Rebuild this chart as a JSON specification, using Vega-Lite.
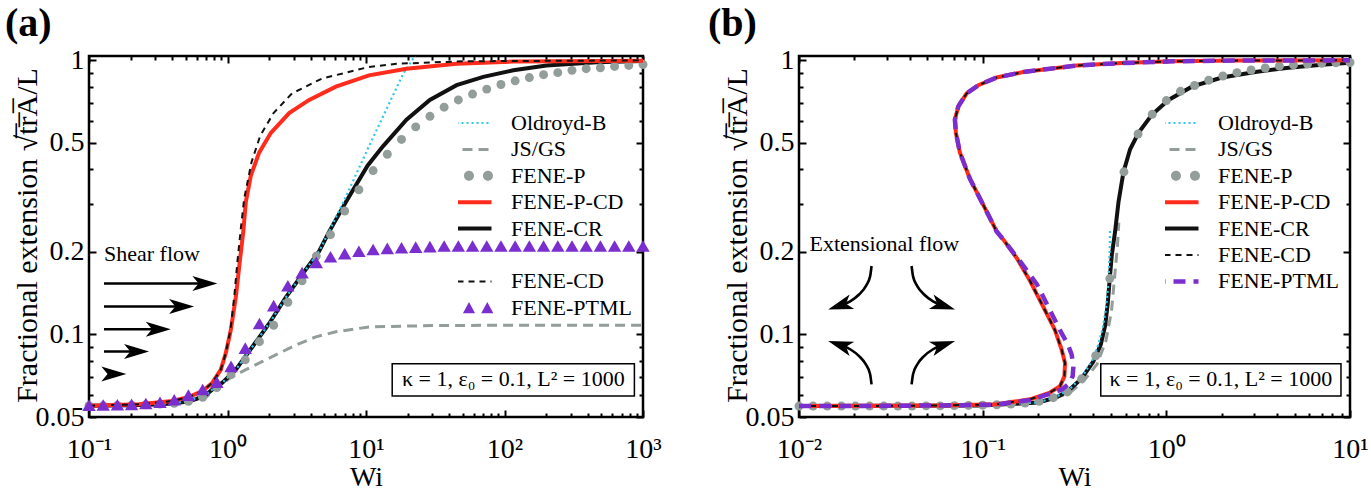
{
"$schema":"https://vega.github.io/schema/vega-lite/v6.json",
"background":"white",
"padding":{"left":3,"top":2,"right":5,"bottom":2},
"config":{
 "font":"Liberation Serif",
 "view":{"stroke":"#000","strokeWidth":2.5},
 "axis":{"grid":false,"domain":false,"labelFont":"Liberation Serif","titleFont":"Liberation Serif","labelColor":"#000","titleColor":"#000","tickColor":"#000","tickWidth":2,"labelFontSize":28,"titleFontSize":28,"titleFontWeight":"normal"},
 "title":{"font":"Liberation Serif","color":"#000"}
},
"spacing":43,
"resolve":{"scale":{"color":"independent","x":"independent","y":"independent"},"legend":{"color":"independent"}},
"datasets":{
"a":[
{"s":"Oldroyd-B","Wi":0.1,"v":0.055},{"s":"Oldroyd-B","Wi":0.3,"v":0.0556},{"s":"Oldroyd-B","Wi":0.5,"v":0.0568},{"s":"Oldroyd-B","Wi":0.7,"v":0.0603},{"s":"Oldroyd-B","Wi":0.778,"v":0.063},{"s":"Oldroyd-B","Wi":0.918,"v":0.0667},{"s":"Oldroyd-B","Wi":1.148,"v":0.0744},{"s":"Oldroyd-B","Wi":1.514,"v":0.0902},{"s":"Oldroyd-B","Wi":2.0,"v":0.1096},{"s":"Oldroyd-B","Wi":2.638,"v":0.1365},{"s":"Oldroyd-B","Wi":3.477,"v":0.1658},{"s":"Oldroyd-B","Wi":4.59,"v":0.201},{"s":"Oldroyd-B","Wi":5.42,"v":0.238},{"s":"Oldroyd-B","Wi":7.0,"v":0.31},{"s":"Oldroyd-B","Wi":10.26,"v":0.473},{"s":"Oldroyd-B","Wi":14,"v":0.66},{"s":"Oldroyd-B","Wi":18.6,"v":0.893},{"s":"Oldroyd-B","Wi":23.5,"v":1.07},
{"s":"JS/GS","Wi":0.1,"v":0.055},{"s":"JS/GS","Wi":0.3,"v":0.0555},{"s":"JS/GS","Wi":0.5,"v":0.0566},{"s":"JS/GS","Wi":0.7,"v":0.059},{"s":"JS/GS","Wi":0.823,"v":0.0635},{"s":"JS/GS","Wi":1.027,"v":0.069},{"s":"JS/GS","Wi":1.356,"v":0.0744},{"s":"JS/GS","Wi":1.788,"v":0.0797},{"s":"JS/GS","Wi":2.36,"v":0.0854},{"s":"JS/GS","Wi":3.115,"v":0.0915},{"s":"JS/GS","Wi":4.345,"v":0.098},{"s":"JS/GS","Wi":6.06,"v":0.1022},{"s":"JS/GS","Wi":10.5,"v":0.1065},{"s":"JS/GS","Wi":30,"v":0.1077},{"s":"JS/GS","Wi":100,"v":0.108},{"s":"JS/GS","Wi":1000,"v":0.108},
{"s":"FENE-CR","Wi":0.1,"v":0.055},{"s":"FENE-CR","Wi":0.2,"v":0.0552},{"s":"FENE-CR","Wi":0.3,"v":0.0555},{"s":"FENE-CR","Wi":0.4,"v":0.056},{"s":"FENE-CR","Wi":0.5,"v":0.0568},{"s":"FENE-CR","Wi":0.6,"v":0.0582},{"s":"FENE-CR","Wi":0.7,"v":0.0603},{"s":"FENE-CR","Wi":0.778,"v":0.063},{"s":"FENE-CR","Wi":0.918,"v":0.0667},{"s":"FENE-CR","Wi":1.148,"v":0.0744},{"s":"FENE-CR","Wi":1.514,"v":0.0902},{"s":"FENE-CR","Wi":2.0,"v":0.1096},{"s":"FENE-CR","Wi":2.638,"v":0.1365},{"s":"FENE-CR","Wi":3.477,"v":0.1658},{"s":"FENE-CR","Wi":4.59,"v":0.201},{"s":"FENE-CR","Wi":5.42,"v":0.237},{"s":"FENE-CR","Wi":7.16,"v":0.304},{"s":"FENE-CR","Wi":10.26,"v":0.412},{"s":"FENE-CR","Wi":13.3,"v":0.486},{"s":"FENE-CR","Wi":19.6,"v":0.606},{"s":"FENE-CR","Wi":28.9,"v":0.716},{"s":"FENE-CR","Wi":45.1,"v":0.81},{"s":"FENE-CR","Wi":70.3,"v":0.869},{"s":"FENE-CR","Wi":115.8,"v":0.918},{"s":"FENE-CR","Wi":201,"v":0.956},{"s":"FENE-CR","Wi":463,"v":0.983},{"s":"FENE-CR","Wi":1000,"v":0.993},
{"s":"FENE-P-CD","Wi":0.1,"v":0.055},{"s":"FENE-P-CD","Wi":0.23,"v":0.0556},{"s":"FENE-P-CD","Wi":0.4,"v":0.0572},{"s":"FENE-P-CD","Wi":0.528,"v":0.0592},{"s":"FENE-P-CD","Wi":0.659,"v":0.0621},{"s":"FENE-P-CD","Wi":0.778,"v":0.0667},{"s":"FENE-P-CD","Wi":0.895,"v":0.0744},{"s":"FENE-P-CD","Wi":0.972,"v":0.0855},{"s":"FENE-P-CD","Wi":1.056,"v":0.1036},{"s":"FENE-P-CD","Wi":1.148,"v":0.1366},{"s":"FENE-P-CD","Wi":1.22,"v":0.18},{"s":"FENE-P-CD","Wi":1.3,"v":0.237},{"s":"FENE-P-CD","Wi":1.356,"v":0.304},{"s":"FENE-P-CD","Wi":1.474,"v":0.3795},{"s":"FENE-P-CD","Wi":1.692,"v":0.46},{"s":"FENE-P-CD","Wi":2.056,"v":0.543},{"s":"FENE-P-CD","Wi":2.787,"v":0.641},{"s":"FENE-P-CD","Wi":3.888,"v":0.716},{"s":"FENE-P-CD","Wi":6.06,"v":0.8},{"s":"FENE-P-CD","Wi":10.5,"v":0.88},{"s":"FENE-P-CD","Wi":19.6,"v":0.93},{"s":"FENE-P-CD","Wi":45.1,"v":0.97},{"s":"FENE-P-CD","Wi":115.8,"v":0.988},{"s":"FENE-P-CD","Wi":1000,"v":0.995},
{"s":"FENE-CD","Wi":0.1,"v":0.055},{"s":"FENE-CD","Wi":0.23,"v":0.0556},{"s":"FENE-CD","Wi":0.4,"v":0.0572},{"s":"FENE-CD","Wi":0.528,"v":0.0592},{"s":"FENE-CD","Wi":0.659,"v":0.0621},{"s":"FENE-CD","Wi":0.778,"v":0.0667},{"s":"FENE-CD","Wi":0.895,"v":0.0744},{"s":"FENE-CD","Wi":0.972,"v":0.0855},{"s":"FENE-CD","Wi":1.05,"v":0.1036},{"s":"FENE-CD","Wi":1.12,"v":0.138},{"s":"FENE-CD","Wi":1.18,"v":0.185},{"s":"FENE-CD","Wi":1.25,"v":0.245},{"s":"FENE-CD","Wi":1.32,"v":0.313},{"s":"FENE-CD","Wi":1.49,"v":0.424},{"s":"FENE-CD","Wi":1.72,"v":0.529},{"s":"FENE-CD","Wi":2.15,"v":0.641},{"s":"FENE-CD","Wi":2.92,"v":0.756},{"s":"FENE-CD","Wi":4.8,"v":0.856},{"s":"FENE-CD","Wi":10.5,"v":0.944},{"s":"FENE-CD","Wi":16.6,"v":0.97},{"s":"FENE-CD","Wi":50,"v":0.99},{"s":"FENE-CD","Wi":1000,"v":0.998},
{"s":"FENE-P","Wi":0.1,"v":0.055},{"s":"FENE-P","Wi":0.12663,"v":0.055},{"s":"FENE-P","Wi":0.16035,"v":0.0551},{"s":"FENE-P","Wi":0.20305,"v":0.0552},{"s":"FENE-P","Wi":0.25713,"v":0.0554},{"s":"FENE-P","Wi":0.32561,"v":0.0557},{"s":"FENE-P","Wi":0.41245,"v":0.0561},{"s":"FENE-P","Wi":0.52222,"v":0.057},{"s":"FENE-P","Wi":0.66148,"v":0.059},{"s":"FENE-P","Wi":0.83782,"v":0.064},{"s":"FENE-P","Wi":1.0608,"v":0.0714},{"s":"FENE-P","Wi":1.3434,"v":0.0808},{"s":"FENE-P","Wi":1.7012,"v":0.0941},{"s":"FENE-P","Wi":2.1544,"v":0.108},{"s":"FENE-P","Wi":2.7283,"v":0.131},{"s":"FENE-P","Wi":3.4551,"v":0.1568},{"s":"FENE-P","Wi":4.3755,"v":0.193},{"s":"FENE-P","Wi":5.5412,"v":0.231},{"s":"FENE-P","Wi":7.017,"v":0.2817},{"s":"FENE-P","Wi":8.8862,"v":0.3367},{"s":"FENE-P","Wi":11.253,"v":0.3956},{"s":"FENE-P","Wi":14.251,"v":0.4537},{"s":"FENE-P","Wi":18.047,"v":0.5139},{"s":"FENE-P","Wi":22.854,"v":0.5708},{"s":"FENE-P","Wi":28.942,"v":0.6237},{"s":"FENE-P","Wi":36.652,"v":0.6737},{"s":"FENE-P","Wi":46.416,"v":0.7159},{"s":"FENE-P","Wi":58.78,"v":0.752},{"s":"FENE-P","Wi":74.438,"v":0.7838},{"s":"FENE-P","Wi":94.267,"v":0.815},{"s":"FENE-P","Wi":119.38,"v":0.8405},{"s":"FENE-P","Wi":151.18,"v":0.8636},{"s":"FENE-P","Wi":191.45,"v":0.885},{"s":"FENE-P","Wi":242.45,"v":0.9},{"s":"FENE-P","Wi":307.03,"v":0.9175},{"s":"FENE-P","Wi":388.82,"v":0.9304},{"s":"FENE-P","Wi":492.39,"v":0.938},{"s":"FENE-P","Wi":623.55,"v":0.9484},{"s":"FENE-P","Wi":789.65,"v":0.9563},{"s":"FENE-P","Wi":1000,"v":0.964},
{"s":"FENE-PTML","Wi":0.1,"v":0.0552},{"s":"FENE-PTML","Wi":0.12663,"v":0.0553},{"s":"FENE-PTML","Wi":0.16035,"v":0.0554},{"s":"FENE-PTML","Wi":0.20305,"v":0.0556},{"s":"FENE-PTML","Wi":0.25713,"v":0.056},{"s":"FENE-PTML","Wi":0.32561,"v":0.0566},{"s":"FENE-PTML","Wi":0.41245,"v":0.0578},{"s":"FENE-PTML","Wi":0.52222,"v":0.0601},{"s":"FENE-PTML","Wi":0.66148,"v":0.063},{"s":"FENE-PTML","Wi":0.83782,"v":0.067},{"s":"FENE-PTML","Wi":1.0608,"v":0.0765},{"s":"FENE-PTML","Wi":1.3434,"v":0.0891},{"s":"FENE-PTML","Wi":1.7012,"v":0.1096},{"s":"FENE-PTML","Wi":2.1544,"v":0.1274},{"s":"FENE-PTML","Wi":2.7283,"v":0.1504},{"s":"FENE-PTML","Wi":3.4551,"v":0.168},{"s":"FENE-PTML","Wi":4.3755,"v":0.183},{"s":"FENE-PTML","Wi":5.5412,"v":0.192},{"s":"FENE-PTML","Wi":7.017,"v":0.197},{"s":"FENE-PTML","Wi":8.8862,"v":0.201},{"s":"FENE-PTML","Wi":11.253,"v":0.204},{"s":"FENE-PTML","Wi":14.251,"v":0.206},{"s":"FENE-PTML","Wi":18.047,"v":0.207},{"s":"FENE-PTML","Wi":22.854,"v":0.208},{"s":"FENE-PTML","Wi":28.942,"v":0.209},{"s":"FENE-PTML","Wi":36.652,"v":0.21},{"s":"FENE-PTML","Wi":46.416,"v":0.21},{"s":"FENE-PTML","Wi":58.78,"v":0.21},{"s":"FENE-PTML","Wi":74.438,"v":0.21},{"s":"FENE-PTML","Wi":94.267,"v":0.21},{"s":"FENE-PTML","Wi":119.38,"v":0.21},{"s":"FENE-PTML","Wi":151.18,"v":0.21},{"s":"FENE-PTML","Wi":191.45,"v":0.21},{"s":"FENE-PTML","Wi":242.45,"v":0.21},{"s":"FENE-PTML","Wi":307.03,"v":0.21},{"s":"FENE-PTML","Wi":388.82,"v":0.21},{"s":"FENE-PTML","Wi":492.39,"v":0.21},{"s":"FENE-PTML","Wi":623.55,"v":0.21},{"s":"FENE-PTML","Wi":789.65,"v":0.21},{"s":"FENE-PTML","Wi":1000,"v":0.21}
],
"b":[
{"s":"Oldroyd-B","Wi":0.01,"v":0.0548},{"s":"Oldroyd-B","Wi":0.1,"v":0.0551},{"s":"Oldroyd-B","Wi":0.2,"v":0.0565},{"s":"Oldroyd-B","Wi":0.25,"v":0.059},{"s":"Oldroyd-B","Wi":0.3,"v":0.0635},{"s":"Oldroyd-B","Wi":0.35,"v":0.0705},{"s":"Oldroyd-B","Wi":0.4,"v":0.0815},{"s":"Oldroyd-B","Wi":0.427,"v":0.0923},{"s":"Oldroyd-B","Wi":0.45,"v":0.105},{"s":"Oldroyd-B","Wi":0.47,"v":0.125},{"s":"Oldroyd-B","Wi":0.482,"v":0.15},{"s":"Oldroyd-B","Wi":0.489,"v":0.18},{"s":"Oldroyd-B","Wi":0.492,"v":0.21},{"s":"Oldroyd-B","Wi":0.494,"v":0.242},
{"s":"JS/GS","Wi":0.01,"v":0.0548},{"s":"JS/GS","Wi":0.1,"v":0.0551},{"s":"JS/GS","Wi":0.2,"v":0.0563},{"s":"JS/GS","Wi":0.2955,"v":0.0609},{"s":"JS/GS","Wi":0.357,"v":0.068},{"s":"JS/GS","Wi":0.4203,"v":0.078},{"s":"JS/GS","Wi":0.4685,"v":0.0946},{"s":"JS/GS","Wi":0.5025,"v":0.1213},{"s":"JS/GS","Wi":0.522,"v":0.1598},{"s":"JS/GS","Wi":0.542,"v":0.2106},{"s":"JS/GS","Wi":0.551,"v":0.2554},
{"s":"FENE-CR","Wi":0.01,"v":0.0548},{"s":"FENE-CR","Wi":0.1,"v":0.0551},{"s":"FENE-CR","Wi":0.2,"v":0.0565},{"s":"FENE-CR","Wi":0.25,"v":0.0588},{"s":"FENE-CR","Wi":0.29,"v":0.062},{"s":"FENE-CR","Wi":0.345,"v":0.069},{"s":"FENE-CR","Wi":0.4,"v":0.0795},{"s":"FENE-CR","Wi":0.44,"v":0.092},{"s":"FENE-CR","Wi":0.465,"v":0.108},{"s":"FENE-CR","Wi":0.48,"v":0.13},{"s":"FENE-CR","Wi":0.492,"v":0.16},{"s":"FENE-CR","Wi":0.505,"v":0.195},{"s":"FENE-CR","Wi":0.526,"v":0.237},{"s":"FENE-CR","Wi":0.549,"v":0.304},{"s":"FENE-CR","Wi":0.584,"v":0.39},{"s":"FENE-CR","Wi":0.635,"v":0.473},{"s":"FENE-CR","Wi":0.7055,"v":0.543},{"s":"FENE-CR","Wi":0.834,"v":0.632},{"s":"FENE-CR","Wi":1.028,"v":0.716},{"s":"FENE-CR","Wi":1.377,"v":0.8},{"s":"FENE-CR","Wi":2.007,"v":0.864},{"s":"FENE-CR","Wi":3.05,"v":0.905},{"s":"FENE-CR","Wi":4.63,"v":0.938},{"s":"FENE-CR","Wi":7.03,"v":0.962},{"s":"FENE-CR","Wi":10,"v":0.978},
{"s":"FENE-P","Wi":0.01,"v":0.0548},{"s":"FENE-P","Wi":0.011938,"v":0.0548},{"s":"FENE-P","Wi":0.014251,"v":0.0548},{"s":"FENE-P","Wi":0.017013,"v":0.0548},{"s":"FENE-P","Wi":0.020309,"v":0.0548},{"s":"FENE-P","Wi":0.024245,"v":0.0548},{"s":"FENE-P","Wi":0.028943,"v":0.0548},{"s":"FENE-P","Wi":0.034551,"v":0.0548},{"s":"FENE-P","Wi":0.041246,"v":0.0548},{"s":"FENE-P","Wi":0.049239,"v":0.0549},{"s":"FENE-P","Wi":0.05878,"v":0.0549},{"s":"FENE-P","Wi":0.07017,"v":0.055},{"s":"FENE-P","Wi":0.083768,"v":0.0551},{"s":"FENE-P","Wi":0.1,"v":0.0552},{"s":"FENE-P","Wi":0.11938,"v":0.0554},{"s":"FENE-P","Wi":0.14251,"v":0.0557},{"s":"FENE-P","Wi":0.17013,"v":0.0562},{"s":"FENE-P","Wi":0.20309,"v":0.057},{"s":"FENE-P","Wi":0.24245,"v":0.0588},{"s":"FENE-P","Wi":0.28943,"v":0.0617},{"s":"FENE-P","Wi":0.34551,"v":0.0689},{"s":"FENE-P","Wi":0.41246,"v":0.0836},{"s":"FENE-P","Wi":0.49239,"v":0.1598},{"s":"FENE-P","Wi":0.5878,"v":0.3916},{"s":"FENE-P","Wi":0.7017,"v":0.5377},{"s":"FENE-P","Wi":0.83768,"v":0.6344},{"s":"FENE-P","Wi":1,"v":0.712},{"s":"FENE-P","Wi":1.1938,"v":0.7694},{"s":"FENE-P","Wi":1.4251,"v":0.808},{"s":"FENE-P","Wi":1.7013,"v":0.845},{"s":"FENE-P","Wi":2.0309,"v":0.875},{"s":"FENE-P","Wi":2.4245,"v":0.9},{"s":"FENE-P","Wi":2.8943,"v":0.92},{"s":"FENE-P","Wi":3.4551,"v":0.936},{"s":"FENE-P","Wi":4.1246,"v":0.95},{"s":"FENE-P","Wi":4.9239,"v":0.96},{"s":"FENE-P","Wi":5.878,"v":0.967},{"s":"FENE-P","Wi":7.017,"v":0.973},{"s":"FENE-P","Wi":8.3768,"v":0.977},{"s":"FENE-P","Wi":10,"v":0.98},
{"s":"FENE-P-CD","i":0,"Wi":0.01,"v":0.0548},{"s":"FENE-P-CD","i":1,"Wi":0.03,"v":0.0549},{"s":"FENE-P-CD","i":2,"Wi":0.06,"v":0.0551},{"s":"FENE-P-CD","i":3,"Wi":0.1192,"v":0.0556},{"s":"FENE-P-CD","i":4,"Wi":0.181,"v":0.058},{"s":"FENE-P-CD","i":5,"Wi":0.2327,"v":0.0614},{"s":"FENE-P-CD","i":6,"Wi":0.2638,"v":0.0648},{"s":"FENE-P-CD","i":7,"Wi":0.2787,"v":0.0704},{"s":"FENE-P-CD","i":8,"Wi":0.2808,"v":0.0786},{"s":"FENE-P-CD","i":9,"Wi":0.2694,"v":0.0878},{"s":"FENE-P-CD","i":10,"Wi":0.2477,"v":0.1036},{"s":"FENE-P-CD","i":11,"Wi":0.2142,"v":0.1257},{"s":"FENE-P-CD","i":12,"Wi":0.181,"v":0.1568},{"s":"FENE-P-CD","i":13,"Wi":0.1532,"v":0.19},{"s":"FENE-P-CD","i":14,"Wi":0.1297,"v":0.2215},{"s":"FENE-P-CD","i":15,"Wi":0.1192,"v":0.2372},{"s":"FENE-P-CD","i":16,"Wi":0.1009,"v":0.296},{"s":"FENE-P-CD","i":17,"Wi":0.0853,"v":0.3688},{"s":"FENE-P-CD","i":18,"Wi":0.0752,"v":0.46},{"s":"FENE-P-CD","i":19,"Wi":0.0715,"v":0.543},{"s":"FENE-P-CD","i":20,"Wi":0.0706,"v":0.606},{"s":"FENE-P-CD","i":21,"Wi":0.0737,"v":0.678},{"s":"FENE-P-CD","i":22,"Wi":0.0818,"v":0.756},{"s":"FENE-P-CD","i":23,"Wi":0.0948,"v":0.81},{"s":"FENE-P-CD","i":24,"Wi":0.1192,"v":0.864},{"s":"FENE-P-CD","i":25,"Wi":0.1667,"v":0.905},{"s":"FENE-P-CD","i":26,"Wi":0.2327,"v":0.93},{"s":"FENE-P-CD","i":27,"Wi":0.3253,"v":0.956},{"s":"FENE-P-CD","i":28,"Wi":0.572,"v":0.975},{"s":"FENE-P-CD","i":29,"Wi":1.072,"v":0.99},{"s":"FENE-P-CD","i":30,"Wi":2.475,"v":0.996},{"s":"FENE-P-CD","i":31,"Wi":10,"v":0.998},
{"s":"FENE-CD","i":0,"Wi":0.01,"v":0.0548},{"s":"FENE-CD","i":1,"Wi":0.03,"v":0.0549},{"s":"FENE-CD","i":2,"Wi":0.06,"v":0.0551},{"s":"FENE-CD","i":3,"Wi":0.1192,"v":0.0556},{"s":"FENE-CD","i":4,"Wi":0.181,"v":0.058},{"s":"FENE-CD","i":5,"Wi":0.2327,"v":0.0614},{"s":"FENE-CD","i":6,"Wi":0.2638,"v":0.0648},{"s":"FENE-CD","i":7,"Wi":0.2787,"v":0.0704},{"s":"FENE-CD","i":8,"Wi":0.2808,"v":0.0786},{"s":"FENE-CD","i":9,"Wi":0.2694,"v":0.0878},{"s":"FENE-CD","i":10,"Wi":0.2477,"v":0.1036},{"s":"FENE-CD","i":11,"Wi":0.2142,"v":0.1257},{"s":"FENE-CD","i":12,"Wi":0.181,"v":0.1568},{"s":"FENE-CD","i":13,"Wi":0.1532,"v":0.19},{"s":"FENE-CD","i":14,"Wi":0.1297,"v":0.2215},{"s":"FENE-CD","i":15,"Wi":0.1192,"v":0.2372},{"s":"FENE-CD","i":16,"Wi":0.1009,"v":0.296},{"s":"FENE-CD","i":17,"Wi":0.0853,"v":0.3688},{"s":"FENE-CD","i":18,"Wi":0.0752,"v":0.46},{"s":"FENE-CD","i":19,"Wi":0.0715,"v":0.543},{"s":"FENE-CD","i":20,"Wi":0.0706,"v":0.606},{"s":"FENE-CD","i":21,"Wi":0.0737,"v":0.678},{"s":"FENE-CD","i":22,"Wi":0.0818,"v":0.756},{"s":"FENE-CD","i":23,"Wi":0.0948,"v":0.81},{"s":"FENE-CD","i":24,"Wi":0.1192,"v":0.864},{"s":"FENE-CD","i":25,"Wi":0.1667,"v":0.905},{"s":"FENE-CD","i":26,"Wi":0.2327,"v":0.93},{"s":"FENE-CD","i":27,"Wi":0.3253,"v":0.956},{"s":"FENE-CD","i":28,"Wi":0.572,"v":0.975},{"s":"FENE-CD","i":29,"Wi":1.072,"v":0.99},{"s":"FENE-CD","i":30,"Wi":2.475,"v":0.996},{"s":"FENE-CD","i":31,"Wi":10,"v":0.998},
{"s":"FENE-PTML","i":0,"Wi":0.01,"v":0.0548},{"s":"FENE-PTML","i":1,"Wi":0.03,"v":0.0549},{"s":"FENE-PTML","i":2,"Wi":0.06,"v":0.0551},{"s":"FENE-PTML","i":3,"Wi":0.1192,"v":0.0555},{"s":"FENE-PTML","i":4,"Wi":0.181,"v":0.0577},{"s":"FENE-PTML","i":5,"Wi":0.2327,"v":0.0607},{"s":"FENE-PTML","i":6,"Wi":0.27,"v":0.063},{"s":"FENE-PTML","i":7,"Wi":0.296,"v":0.0662},{"s":"FENE-PTML","i":8,"Wi":0.309,"v":0.0705},{"s":"FENE-PTML","i":9,"Wi":0.312,"v":0.0765},{"s":"FENE-PTML","i":10,"Wi":0.305,"v":0.0845},{"s":"FENE-PTML","i":11,"Wi":0.29,"v":0.0925},{"s":"FENE-PTML","i":12,"Wi":0.2694,"v":0.1008},{"s":"FENE-PTML","i":13,"Wi":0.2327,"v":0.1223},{"s":"FENE-PTML","i":14,"Wi":0.197,"v":0.1526},{"s":"FENE-PTML","i":15,"Wi":0.16,"v":0.1845},{"s":"FENE-PTML","i":16,"Wi":0.1297,"v":0.2215},{"s":"FENE-PTML","i":17,"Wi":0.1192,"v":0.2372},{"s":"FENE-PTML","i":18,"Wi":0.1009,"v":0.296},{"s":"FENE-PTML","i":19,"Wi":0.0853,"v":0.3688},{"s":"FENE-PTML","i":20,"Wi":0.0752,"v":0.46},{"s":"FENE-PTML","i":21,"Wi":0.0715,"v":0.543},{"s":"FENE-PTML","i":22,"Wi":0.0706,"v":0.606},{"s":"FENE-PTML","i":23,"Wi":0.0737,"v":0.678},{"s":"FENE-PTML","i":24,"Wi":0.0818,"v":0.756},{"s":"FENE-PTML","i":25,"Wi":0.0948,"v":0.81},{"s":"FENE-PTML","i":26,"Wi":0.1192,"v":0.864},{"s":"FENE-PTML","i":27,"Wi":0.1667,"v":0.905},{"s":"FENE-PTML","i":28,"Wi":0.2327,"v":0.93},{"s":"FENE-PTML","i":29,"Wi":0.3253,"v":0.956},{"s":"FENE-PTML","i":30,"Wi":0.572,"v":0.975},{"s":"FENE-PTML","i":31,"Wi":1.072,"v":0.99},{"s":"FENE-PTML","i":32,"Wi":2.475,"v":0.996},{"s":"FENE-PTML","i":33,"Wi":10,"v":0.998}
]
},
"hconcat":[
{
 "width":554,"height":361,
 "title":{"text":"(a)","anchor":"start","frame":"bounds","fontSize":40,"fontWeight":"bold","offset":2,"dx":-7},
 "data":{"name":"a"},
 "encoding":{
  "x":{"field":"Wi","type":"quantitative","scale":{"type":"log","domain":[0.1,1000],"nice":false},"axis":null},
  "y":{"field":"v","type":"quantitative","scale":{"type":"log","domain":[0.05,1.035],"nice":false},"axis":null}
 },
 "resolve":{"axis":{"x":"independent","y":"independent"}},
 "layer":[
  {"transform":[{"filter":"datum.s === 'JS/GS'"}],
   "mark":{"type":"line","clip":true,"color":"#939d9a","strokeWidth":3,"strokeDash":[10,6]},
   "encoding":{
    "x":{"field":"Wi","type":"quantitative","scale":{"type":"log","domain":[0.1,1000],"nice":false},
      "axis":{"orient":"bottom","values":[0.1,1,10,100,1000],"labelExpr":"datum.value < 0.5 ? '10⁻¹' : datum.value < 5 ? '10⁰' : datum.value < 50 ? '10¹' : datum.value < 500 ? '10²' : '10³'","tickSize":-7,"labelPadding":25,"labelFlush":false,"labelOverlap":false,"title":"Wi","titlePadding":0}},
    "y":{"field":"v","type":"quantitative","scale":{"type":"log","domain":[0.05,1.035],"nice":false},
      "axis":{"orient":"left","values":[0.05,0.1,0.2,0.5,1],"format":"~g","tickSize":-7,"labelPadding":12,"labelOverlap":false,"title":"Fractional extension  √t̅r̅A̅/L","titleX":-53,"titleY":179,"titleAngle":-90,"titleAlign":"center","titleBaseline":"alphabetic","titleFontSize":30}}
   }},
  {"transform":[{"filter":"datum.s === 'FENE-CR'"}],
   "mark":{"type":"line","clip":true,"strokeWidth":4},
   "encoding":{
    "x":{"field":"Wi","type":"quantitative","scale":{"type":"log","domain":[0.1,1000],"nice":false},
      "axis":{"orient":"top","values":[0.1,1,10,100,1000],"labels":false,"tickSize":-7,"title":null}},
    "y":{"field":"v","type":"quantitative","scale":{"type":"log","domain":[0.05,1.035],"nice":false},
      "axis":{"orient":"right","values":[0.05,0.1,0.2,0.5,1],"labels":false,"tickSize":-7,"title":null}},
    "color":{"field":"s","type":"nominal",
      "scale":{"domain":["Oldroyd-B","JS/GS","FENE-P","FENE-P-CD","FENE-CR"," ","FENE-CD","FENE-PTML"],"range":["#2fc6ee","#939d9a","#939d9a","#ff2b1c","#111111","#ffffff","#111111","#7b2ed0"]},
      "legend":{"title":null,"orient":"none","legendX":369,"legendY":54,"symbolSize":2025,"clipHeight":26,"rowPadding":0.4,"padding":0,"labelFont":"Liberation Serif","labelFontSize":22,"labelColor":"#000","labelOffset":31,
        "encode":{"symbols":{"update":{
          "shape":{"signal":"datum.value === 'FENE-P' ? 'M-1.066,0A0.222,0.222,0,1,0,-0.622,0A0.222,0.222,0,1,0,-1.066,0ZM-0.222,0A0.222,0.222,0,1,0,0.222,0A0.222,0.222,0,1,0,-0.222,0ZM0.622,0A0.222,0.222,0,1,0,1.066,0A0.222,0.222,0,1,0,0.622,0Z' : datum.value === 'FENE-PTML' ? 'M-0.813,-0.26L-0.543,0.24L-1.083,0.24ZM0,-0.26L0.27,0.24L-0.27,0.24ZM0.813,-0.26L1.083,0.24L0.543,0.24Z' : 'stroke'"},
          "fill":{"signal":"datum.value === 'FENE-P' ? '#939d9a' : datum.value === 'FENE-PTML' ? '#7b2ed0' : 'transparent'"},
          "strokeWidth":{"signal":"datum.value === 'Oldroyd-B' ? 2.2 : datum.value === 'JS/GS' ? 3 : datum.value === 'FENE-CD' ? 2 : (datum.value === 'FENE-P' || datum.value === 'FENE-PTML') ? 0 : 4"},
          "strokeDash":{"signal":"datum.value === 'Oldroyd-B' ? [2,3] : datum.value === 'JS/GS' ? [10,6] : datum.value === 'FENE-CD' ? [6,5] : [1,0]"},
          "opacity":{"signal":"datum.value === ' ' ? 0 : 1"},
          "size":{"value":2025}
        }}}}}
   }},
  {"transform":[{"filter":"datum.s === 'Oldroyd-B'"}],
   "mark":{"type":"line","clip":true,"color":"#2fc6ee","strokeWidth":2.2,"strokeDash":[2,3]},
   "encoding":{
    "x":{"field":"Wi","type":"quantitative","scale":{"type":"log","domain":[0.1,1000],"nice":false},
      "axis":{"orient":"bottom","values":[0.2,0.3,0.4,0.5,0.6,0.7,0.8,0.9,2,3,4,5,6,7,8,9,20,30,40,50,60,70,80,90,200,300,400,500,600,700,800,900],"labels":false,"tickSize":-4,"title":null}},
    "y":{"field":"v","type":"quantitative","scale":{"type":"log","domain":[0.05,1.035],"nice":false},
      "axis":{"orient":"left","values":[0.06,0.07,0.08,0.09,0.3,0.4,0.6,0.7,0.8,0.9],"labels":false,"tickSize":-4,"title":null}}
   }},
  {"transform":[{"filter":"datum.s === 'FENE-P'"}],
   "mark":{"type":"point","shape":"circle","filled":true,"size":80,"color":"#939d9a","opacity":1},
   "encoding":{
    "x":{"field":"Wi","type":"quantitative","scale":{"type":"log","domain":[0.1,1000],"nice":false},
      "axis":{"orient":"top","values":[0.2,0.3,0.4,0.5,0.6,0.7,0.8,0.9,2,3,4,5,6,7,8,9,20,30,40,50,60,70,80,90,200,300,400,500,600,700,800,900],"labels":false,"tickSize":-4,"title":null}},
    "y":{"field":"v","type":"quantitative","scale":{"type":"log","domain":[0.05,1.035],"nice":false},
      "axis":{"orient":"right","values":[0.06,0.07,0.08,0.09,0.3,0.4,0.6,0.7,0.8,0.9],"labels":false,"tickSize":-4,"title":null}}
   }},
  {"transform":[{"filter":"datum.s === 'FENE-P-CD'"}],
   "mark":{"type":"line","clip":true,"color":"#ff2b1c","strokeWidth":4}},
  {"transform":[{"filter":"datum.s === 'FENE-CD'"}],
   "mark":{"type":"line","clip":true,"color":"#111111","strokeWidth":2,"strokeDash":[6,5]}},
  {"transform":[{"filter":"datum.s === 'FENE-PTML'"}],
   "mark":{"type":"point","shape":"triangle-up","filled":true,"size":180,"color":"#7b2ed0","opacity":1}},
  {"data":{"values":[{"x1":0.1283,"x2":0.689,"v":0.1533},{"x1":0.1283,"x2":0.47,"v":0.1264},{"x1":0.1283,"x2":0.319,"v":0.1045},{"x1":0.1283,"x2":0.2222,"v":0.0866}]},
   "mark":{"type":"rule","color":"#000","strokeWidth":2.6},
   "encoding":{
    "x":{"field":"x1","type":"quantitative","scale":{"type":"log","domain":[0.1,1000],"nice":false},"axis":null},
    "x2":{"field":"x2"},
    "y":{"field":"v","type":"quantitative","scale":{"type":"log","domain":[0.05,1.035],"nice":false},"axis":null}
   }},
  {"data":{"values":[{"tip":0.845,"v":0.1533},{"tip":0.574,"v":0.1264},{"tip":0.3895,"v":0.1045},{"tip":0.2714,"v":0.0866},{"tip":0.186,"v":0.0718}]},
   "mark":{"type":"point","shape":"M0,0L-2,-0.6L-1.5,0L-2,0.6Z","size":625,"filled":true,"color":"#000","opacity":1,"strokeWidth":0},
   "encoding":{
    "x":{"field":"tip","type":"quantitative","scale":{"type":"log","domain":[0.1,1000],"nice":false},"axis":null}
   }},
  {"data":{"values":[{"Wi":0.1283,"v":0.1956,"t":"Shear flow"}]},
   "mark":{"type":"text","align":"left","baseline":"middle","font":"Liberation Serif","fontSize":22,"color":"#000"},
   "encoding":{"text":{"field":"t"}}},
  {"data":{"values":[{"x1":15.46,"x2":866.8,"y1":0.0597,"y2":0.0782}]},
   "mark":{"type":"rect","fill":"#fff","stroke":"#000","strokeWidth":1.5},
   "encoding":{
    "x":{"field":"x1","type":"quantitative","scale":{"type":"log","domain":[0.1,1000],"nice":false},"axis":null},
    "x2":{"field":"x2"},
    "y":{"field":"y1","type":"quantitative","scale":{"type":"log","domain":[0.05,1.035],"nice":false},"axis":null},
    "y2":{"field":"y2"}
   }},
  {"data":{"values":[{"Wi":115.8,"v":0.0685,"t":"κ = 1, ε₀ = 0.1, L² = 1000"}]},
   "mark":{"type":"text","align":"center","baseline":"middle","font":"Liberation Serif","fontSize":22,"color":"#000"},
   "encoding":{"text":{"field":"t"}}}
 ]
},
{
 "width":551,"height":361,
 "title":{"text":"(b)","anchor":"start","frame":"bounds","fontSize":40,"fontWeight":"bold","offset":2,"dx":-14},
 "data":{"name":"b"},
 "encoding":{
  "x":{"field":"Wi","type":"quantitative","scale":{"type":"log","domain":[0.01,10],"nice":false},"axis":null},
  "y":{"field":"v","type":"quantitative","scale":{"type":"log","domain":[0.05,1.035],"nice":false},"axis":null}
 },
 "resolve":{"axis":{"x":"independent","y":"independent"}},
 "layer":[
  {"transform":[{"filter":"datum.s === 'JS/GS'"}],
   "mark":{"type":"line","clip":true,"color":"#939d9a","strokeWidth":3,"strokeDash":[10,6]},
   "encoding":{
    "x":{"field":"Wi","type":"quantitative","scale":{"type":"log","domain":[0.01,10],"nice":false},
      "axis":{"orient":"bottom","values":[0.01,0.1,1,10],"labelExpr":"datum.value < 0.05 ? '10⁻²' : datum.value < 0.5 ? '10⁻¹' : datum.value < 5 ? '10⁰' : '10¹'","tickSize":-7,"labelPadding":25,"labelFlush":false,"labelOverlap":false,"title":"Wi","titlePadding":0}},
    "y":{"field":"v","type":"quantitative","scale":{"type":"log","domain":[0.05,1.035],"nice":false},
      "axis":{"orient":"left","values":[0.05,0.1,0.2,0.5,1],"format":"~g","tickSize":-7,"labelPadding":12,"labelOverlap":false,"title":"Fractional extension  √t̅r̅A̅/L","titleX":-53,"titleY":179,"titleAngle":-90,"titleAlign":"center","titleBaseline":"alphabetic","titleFontSize":30}}
   }},
  {"transform":[{"filter":"datum.s === 'FENE-CR'"}],
   "mark":{"type":"line","clip":true,"strokeWidth":4},
   "encoding":{
    "x":{"field":"Wi","type":"quantitative","scale":{"type":"log","domain":[0.01,10],"nice":false},
      "axis":{"orient":"top","values":[0.01,0.1,1,10],"labels":false,"tickSize":-7,"title":null}},
    "y":{"field":"v","type":"quantitative","scale":{"type":"log","domain":[0.05,1.035],"nice":false},
      "axis":{"orient":"right","values":[0.05,0.1,0.2,0.5,1],"labels":false,"tickSize":-7,"title":null}},
    "color":{"field":"s","type":"nominal",
      "scale":{"domain":["Oldroyd-B","JS/GS","FENE-P","FENE-P-CD","FENE-CR","FENE-CD","FENE-PTML"],"range":["#2fc6ee","#939d9a","#939d9a","#ff2b1c","#111111","#111111","#7b2ed0"]},
      "legend":{"title":null,"orient":"none","legendX":366,"legendY":54,"symbolSize":2025,"clipHeight":26,"rowPadding":0.4,"padding":0,"labelFont":"Liberation Serif","labelFontSize":22,"labelColor":"#000","labelOffset":31,
        "encode":{"symbols":{"update":{
          "shape":{"signal":"datum.value === 'FENE-P' ? 'M-1.066,0A0.222,0.222,0,1,0,-0.622,0A0.222,0.222,0,1,0,-1.066,0ZM-0.222,0A0.222,0.222,0,1,0,0.222,0A0.222,0.222,0,1,0,-0.222,0ZM0.622,0A0.222,0.222,0,1,0,1.066,0A0.222,0.222,0,1,0,0.622,0Z' : 'stroke'"},
          "fill":{"signal":"datum.value === 'FENE-P' ? '#939d9a' : 'transparent'"},
          "strokeWidth":{"signal":"datum.value === 'Oldroyd-B' ? 2.2 : datum.value === 'JS/GS' ? 3 : datum.value === 'FENE-CD' ? 2 : datum.value === 'FENE-PTML' ? 4.5 : datum.value === 'FENE-P' ? 0 : 4"},
          "strokeDash":{"signal":"datum.value === 'Oldroyd-B' ? [2,3] : datum.value === 'JS/GS' ? [10,6] : datum.value === 'FENE-CD' ? [6,5] : datum.value === 'FENE-PTML' ? [12,8] : [1,0]"},
          "size":{"value":2025}
        }}}}}
   }},
  {"transform":[{"filter":"datum.s === 'Oldroyd-B'"}],
   "mark":{"type":"line","clip":true,"color":"#2fc6ee","strokeWidth":2.2,"strokeDash":[2,3]},
   "encoding":{
    "x":{"field":"Wi","type":"quantitative","scale":{"type":"log","domain":[0.01,10],"nice":false},
      "axis":{"orient":"bottom","values":[0.02,0.03,0.04,0.05,0.06,0.07,0.08,0.09,0.2,0.3,0.4,0.5,0.6,0.7,0.8,0.9,2,3,4,5,6,7,8,9],"labels":false,"tickSize":-4,"title":null}},
    "y":{"field":"v","type":"quantitative","scale":{"type":"log","domain":[0.05,1.035],"nice":false},
      "axis":{"orient":"left","values":[0.06,0.07,0.08,0.09,0.3,0.4,0.6,0.7,0.8,0.9],"labels":false,"tickSize":-4,"title":null}}
   }},
  {"transform":[{"filter":"datum.s === 'FENE-P'"}],
   "mark":{"type":"point","shape":"circle","filled":true,"size":80,"color":"#939d9a","opacity":1},
   "encoding":{
    "x":{"field":"Wi","type":"quantitative","scale":{"type":"log","domain":[0.01,10],"nice":false},
      "axis":{"orient":"top","values":[0.02,0.03,0.04,0.05,0.06,0.07,0.08,0.09,0.2,0.3,0.4,0.5,0.6,0.7,0.8,0.9,2,3,4,5,6,7,8,9],"labels":false,"tickSize":-4,"title":null}},
    "y":{"field":"v","type":"quantitative","scale":{"type":"log","domain":[0.05,1.035],"nice":false},
      "axis":{"orient":"right","values":[0.06,0.07,0.08,0.09,0.3,0.4,0.6,0.7,0.8,0.9],"labels":false,"tickSize":-4,"title":null}}
   }},
  {"transform":[{"filter":"datum.s === 'FENE-P-CD'"}],
   "mark":{"type":"line","clip":true,"color":"#ff2b1c","strokeWidth":4},
   "encoding":{"order":{"field":"i","type":"quantitative"}}},
  {"transform":[{"filter":"datum.s === 'FENE-CD'"}],
   "mark":{"type":"line","clip":true,"color":"#111111","strokeWidth":2,"strokeDash":[6,5]},
   "encoding":{"order":{"field":"i","type":"quantitative"}}},
  {"transform":[{"filter":"datum.s === 'FENE-PTML'"}],
   "mark":{"type":"line","clip":true,"color":"#7b2ed0","strokeWidth":4.5,"strokeDash":[12,8]},
   "encoding":{"order":{"field":"i","type":"quantitative"}}},
  {"data":{"values":[
    {"id":1,"i":0,"Wi":0.02483,"v":0.1776},{"id":1,"i":1,"Wi":0.02439,"v":0.1628},{"id":1,"i":2,"Wi":0.02312,"v":0.1501},{"id":1,"i":3,"Wi":0.02123,"v":0.1398},{"id":1,"i":4,"Wi":0.01899,"v":0.132},{"id":1,"i":5,"Wi":0.01662,"v":0.1269},
    {"id":2,"i":0,"Wi":0.04102,"v":0.1776},{"id":2,"i":1,"Wi":0.04178,"v":0.1628},{"id":2,"i":2,"Wi":0.04405,"v":0.1501},{"id":2,"i":3,"Wi":0.04798,"v":0.1398},{"id":2,"i":4,"Wi":0.05368,"v":0.132},{"id":2,"i":5,"Wi":0.06131,"v":0.1269},
    {"id":3,"i":0,"Wi":0.02483,"v":0.0657},{"id":3,"i":1,"Wi":0.02439,"v":0.0716},{"id":3,"i":2,"Wi":0.02312,"v":0.0777},{"id":3,"i":3,"Wi":0.02123,"v":0.0834},{"id":3,"i":4,"Wi":0.01899,"v":0.0883},{"id":3,"i":5,"Wi":0.01662,"v":0.0919},
    {"id":4,"i":0,"Wi":0.04102,"v":0.0657},{"id":4,"i":1,"Wi":0.04178,"v":0.0716},{"id":4,"i":2,"Wi":0.04405,"v":0.0777},{"id":4,"i":3,"Wi":0.04798,"v":0.0834},{"id":4,"i":4,"Wi":0.05368,"v":0.0883},{"id":4,"i":5,"Wi":0.06131,"v":0.0919}
   ]},
   "mark":{"type":"line","color":"#000","strokeWidth":2.6,"interpolate":"monotone"},
   "encoding":{"detail":{"field":"id","type":"nominal"},"order":{"field":"i","type":"quantitative"}}},
  {"data":{"values":[{"Wi":0.01441,"v":0.1233,"ang":162},{"Wi":0.07072,"v":0.1233,"ang":18},{"Wi":0.01441,"v":0.0946,"ang":198},{"Wi":0.07072,"v":0.0946,"ang":342}]},
   "mark":{"type":"point","shape":"M0,0L-2,-0.6L-1.5,0L-2,0.6Z","size":625,"filled":true,"color":"#000","opacity":1,"strokeWidth":0},
   "encoding":{"angle":{"field":"ang","type":"quantitative","scale":null}}},
  {"data":{"values":[{"Wi":0.01141,"v":0.213,"t":"Extensional flow"}]},
   "mark":{"type":"text","align":"left","baseline":"middle","font":"Liberation Serif","fontSize":22,"color":"#000"},
   "encoding":{"text":{"field":"t"}}},
  {"data":{"values":[{"x1":0.4396,"x2":8.93,"y1":0.0597,"y2":0.0782}]},
   "mark":{"type":"rect","fill":"#fff","stroke":"#000","strokeWidth":1.5},
   "encoding":{
    "x":{"field":"x1","type":"quantitative","scale":{"type":"log","domain":[0.01,10],"nice":false},"axis":null},
    "x2":{"field":"x2"},
    "y":{"field":"y1","type":"quantitative","scale":{"type":"log","domain":[0.05,1.035],"nice":false},"axis":null},
    "y2":{"field":"y2"}
   }},
  {"data":{"values":[{"Wi":1.98,"v":0.0685,"t":"κ = 1, ε₀ = 0.1, L² = 1000"}]},
   "mark":{"type":"text","align":"center","baseline":"middle","font":"Liberation Serif","fontSize":22,"color":"#000"},
   "encoding":{"text":{"field":"t"}}}
 ]
}
]
}
